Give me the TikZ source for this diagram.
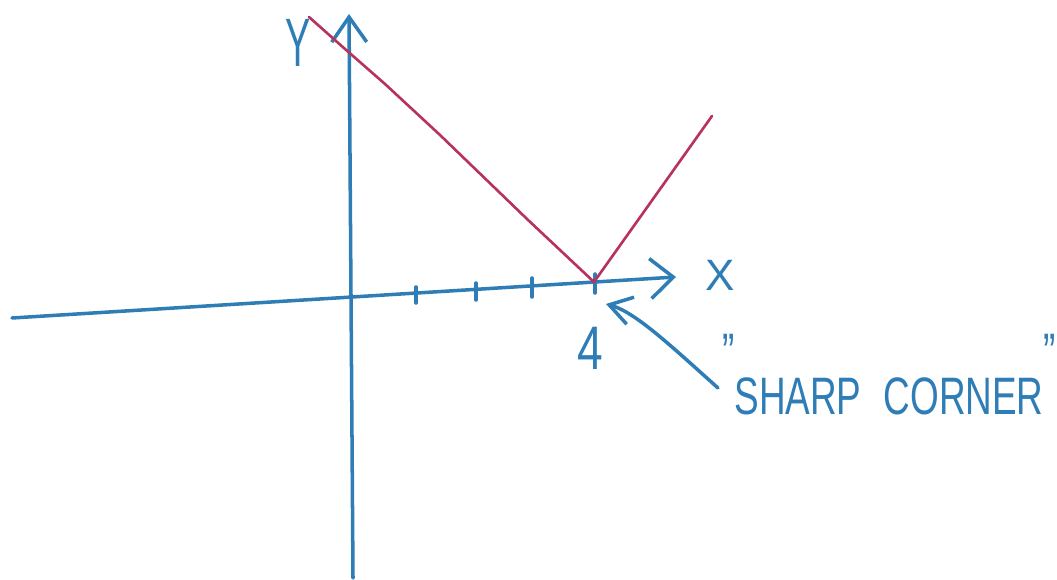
\documentclass[tikz,border=0pt]{standalone}
\usepackage{fontspec}
\setmainfont{Liberation Sans}
\usetikzlibrary{arrows.meta}
\definecolor{penblue}{HTML}{2F7DB6}
\definecolor{inkred}{HTML}{B8325E}
\begin{document}
\begin{tikzpicture}[x=0.02cm,y=-0.02cm,
  pen/.style={draw=penblue,line width=2pt,line cap=round,line join=round},
  graphline/.style={draw=inkred,line width=1.5pt,line cap=round,line join=round},
  lbl/.style={text=penblue,inner sep=0pt,anchor=base},
]
\useasboundingbox (0,0) rectangle (1057,580);
% axes
\coordinate (xstart) at (12,318);
\coordinate (xend) at (676,277);
\coordinate (ystart) at (353,578);
\coordinate (yend) at (349,14);
\draw[pen,-{Straight Barb[length=0.46cm,width=0.8cm]}] (xstart) -- (xend);
\draw[pen,-{Straight Barb[length=0.5cm,width=0.7cm]}] (ystart) -- (yend);
% ticks
\draw[pen] (416,287) -- (416,303);
\draw[pen] (476,283) -- (476,300);
\draw[pen] (532,278) -- (532,297);
\draw[pen] (595,274) -- (595,293);
% graph
\coordinate (corner) at (594,282);
\draw[graphline] (309,17) -- (345,49) -- (385,84) -- (440,135)
  -- (527,219) -- (corner) -- (712,116);
% labels
\node[lbl,font=\fontsize{39}{39}\selectfont,xscale=0.55] (ylab) at (298,67) {Y};
\node[lbl,font=\fontsize{25}{25}\selectfont] (xlab) at (720,291) {X};
\node[lbl,font=\fontsize{35}{35}\selectfont,xscale=0.75] (four) at (590,370) {4};
\node[lbl,font=\fontsize{30}{30}\selectfont,xscale=0.7] (note) at (889,415)
  {\raisebox{0.85em}{"}SHARP\hspace{0.6em}CORNER\raisebox{0.85em}{"}};
% pointer arrow
\coordinate (pstart) at (718,388);
\coordinate (ptip) at (606,304);
\draw[pen,-{Straight Barb[length=0.44cm,width=0.56cm]}] (pstart) .. controls (670,345) and (635,312) .. (ptip);
\end{tikzpicture}
\end{document}
